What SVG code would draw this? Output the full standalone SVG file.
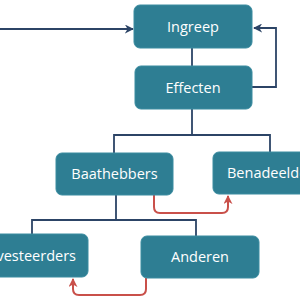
<svg xmlns="http://www.w3.org/2000/svg" width="300" height="300" viewBox="0 0 300 300">
<style>
.box{fill:#2e7e93;stroke:#3a8ca0;stroke-width:1}
.lbl{font-family:"Open Sans","Liberation Sans",sans-serif;font-size:14.5px;fill:#ffffff;text-anchor:middle}
.ln{fill:none;stroke:#2c4466;stroke-width:1.8}
.rd{fill:none;stroke:#c9504a;stroke-width:2}
</style>
<defs>
<marker id="ab" viewBox="0 0 10 10" refX="9" refY="5" markerWidth="5" markerHeight="5" orient="auto"><path d="M0,0L10,5L0,10L3,5Z" fill="#2c4466"/></marker>
<marker id="ar" viewBox="0 0 10 10" refX="9" refY="5" markerWidth="4.5" markerHeight="4.5" orient="auto"><path d="M0,0L10,5L0,10L3,5Z" fill="#c9504a"/></marker>
</defs>
<g id="connectors">
<path class="ln" d="M0,29H133" marker-end="url(#ab)"/>
<path class="ln" d="M252,87H276V28H254" marker-end="url(#ab)"/>
<path class="ln" d="M192,48V66"/>
<path class="ln" d="M192,109V135M114,153V135H270V152"/>
<path class="ln" d="M116,195V220M32,234V220H196V236"/>
<path class="rd" d="M154,195V207Q154,213 160,213H222Q228,213 228,207V196" marker-end="url(#ar)"/>
<path class="rd" d="M146,278V289Q146,295 140,295H79Q73,295 73,289V279" marker-end="url(#ar)"/>
</g>
<g id="ingreep"><rect class="box" x="134" y="5" width="118" height="43" rx="6"/><text class="lbl" x="193" y="32">Ingreep</text></g>
<g id="effecten"><rect class="box" x="135" y="66" width="117" height="43" rx="6"/><text class="lbl" x="193" y="93">Effecten</text></g>
<g id="baathebbers"><rect class="box" x="56" y="153" width="117" height="42" rx="6"/><text class="lbl" x="114.5" y="179">Baathebbers</text></g>
<g id="benadeelden"><rect class="box" x="213" y="152" width="117" height="42" rx="6"/><text class="lbl" x="227" y="178" style="text-anchor:start">Benadeelden</text></g>
<g id="investeerders"><rect class="box" x="-29" y="234" width="117" height="43" rx="6"/><text class="lbl" x="76" y="261" style="text-anchor:end">Investeerders</text></g>
<g id="anderen"><rect class="box" x="141" y="236" width="118" height="42" rx="6"/><text class="lbl" x="200" y="262">Anderen</text></g>
</svg>
